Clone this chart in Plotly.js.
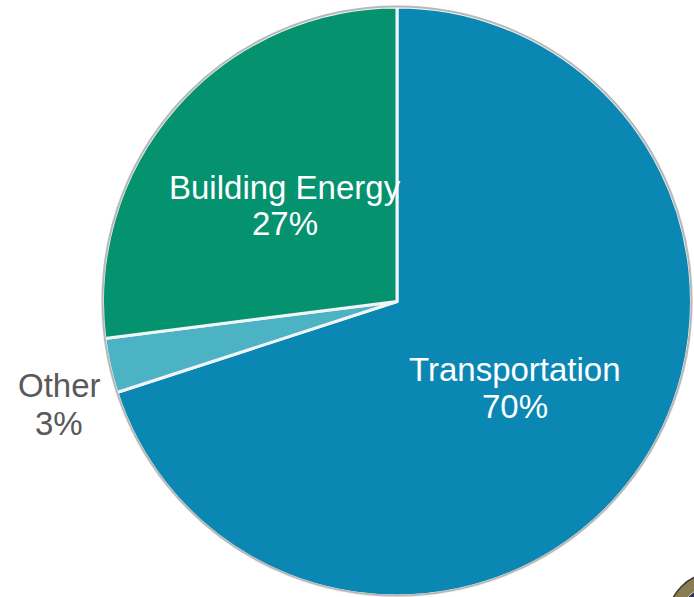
<!DOCTYPE html>
<html><head><meta charset="utf-8"><script src="https://cdn.plot.ly/plotly-3.0.1.min.js"></script>
<style>html,body{margin:0;padding:0;background:#fff}</style></head><body><div id="c" style="width:694px;height:597px"></div>
<script>
var categories=["Transportation","Other","Building Energy"];
var shares=[70,3,27];
var sliceColors=["#0b87b4","#4bb3c4","#05926f"];
var labelColors=["#ffffff","#595959","#ffffff"];
var W=694,H=597;
function px(x){return x/W;} function py(y){return 1-y/H;}
var labelPos=[{x:515,y1:369,y2:406},{x:59,y1:385,y2:423},{x:285,y1:187,y2:224}];
var annotations=[];
categories.forEach(function(c,i){
  [[c,labelPos[i].y1],[shares[i]+"%",labelPos[i].y2]].forEach(function(t){
    annotations.push({xref:"paper",yref:"paper",x:px(labelPos[i].x),y:py(t[1]),xanchor:"center",yanchor:"middle",showarrow:false,text:t[0],
      font:{family:"Liberation Sans, Arial, sans-serif",size:33,color:labelColors[i]}});
  });
});
Plotly.newPlot("c",[{type:"pie",labels:categories,values:shares,sort:false,direction:"clockwise",rotation:0,
domain:{x:[px(102),px(692)],y:[py(596),py(7)]},
marker:{colors:sliceColors,line:{color:"#f2f5f5",width:3}},textinfo:"none",hoverinfo:"label+percent"}],
{width:W,height:H,margin:{l:0,r:0,t:0,b:0},showlegend:false,paper_bgcolor:"#fff",annotations:annotations,
shapes:[
{type:"circle",xref:"paper",yref:"paper",x0:px(102.5),x1:px(691.5),y0:py(595.5),y1:py(6.5),line:{color:"#b8b8b8",width:2},layer:"above"},
{type:"circle",xref:"paper",yref:"paper",x0:px(668),x1:px(760),y0:py(665),y1:py(573),fillcolor:"#8a7c52",line:{color:"#3a3a30",width:1.5},layer:"above"},
{type:"circle",xref:"paper",yref:"paper",x0:px(680),x1:px(748),y0:py(653),y1:py(585),fillcolor:"#2f3560",line:{color:"#d8d0b0",width:1},layer:"above"}
]},{displayModeBar:false});
</script></body></html>
